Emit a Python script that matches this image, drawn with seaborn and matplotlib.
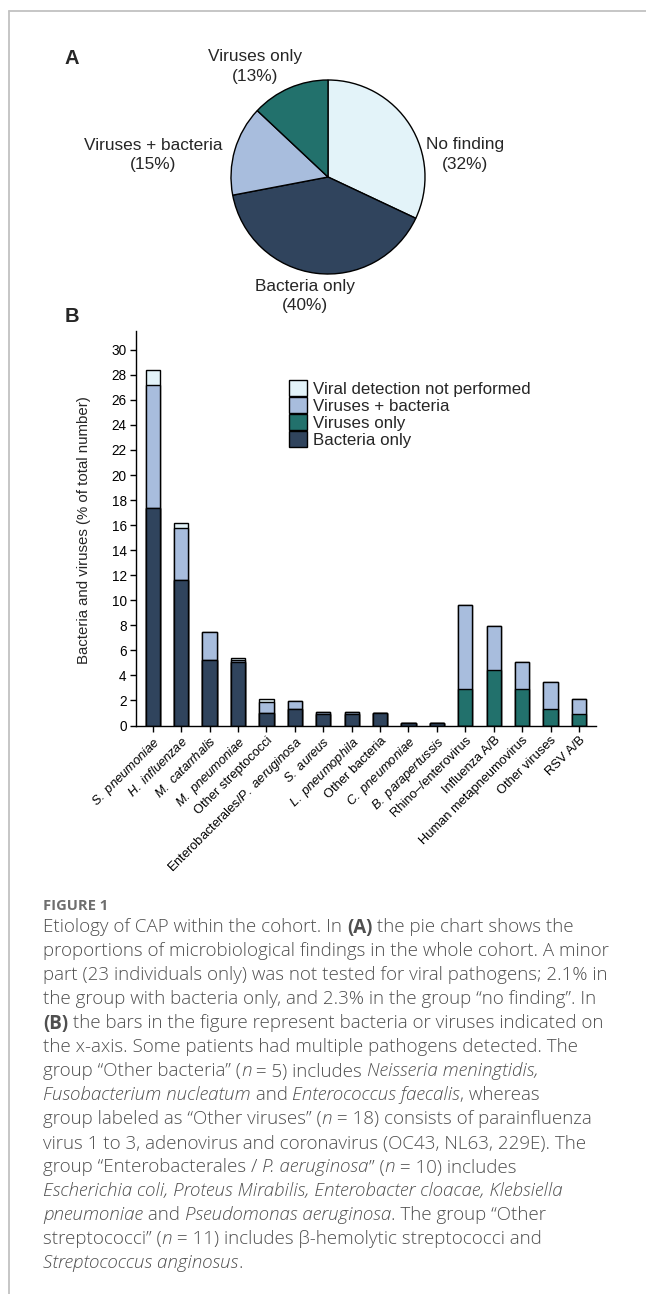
import numpy as np
import pandas as pd
import matplotlib
matplotlib.use("Agg")
import matplotlib.pyplot as plt
import seaborn as sns
from matplotlib.lines import Line2D
from matplotlib.patches import Patch

# ---------------- data ----------------
pie_labels = ["No finding", "Bacteria only", "Viruses + bacteria", "Viruses only"]
pie_values = [32, 40, 15, 13]

categories = ["S. pneumoniae", "H. influenzae", "M. catarrhalis", "M. pneumoniae",
              "Other streptococci", "Enterobacterales/P. aeruginosa", "S. aureus",
              "L. pneumophila", "Other bacteria", "C. pneumoniae", "B. parapertussis",
              "Rhino–/enterovirus", "Influenza A/B", "Human metapneumovirus",
              "Other viruses", "RSV A/B"]
tick_labels = [r"$\mathit{S.\ pneumoniae}$", r"$\mathit{H.\ influenzae}$",
               r"$\mathit{M.\ catarrhalis}$", r"$\mathit{M.\ pneumoniae}$",
               "Other streptococci", r"Enterobacterales/$\mathit{P.\ aeruginosa}$",
               r"$\mathit{S.\ aureus}$", r"$\mathit{L.\ pneumophila}$", "Other bacteria",
               r"$\mathit{C.\ pneumoniae}$", r"$\mathit{B.\ parapertussis}$",
               "Rhino–/enterovirus", "Influenza A/B", "Human metapneumovirus",
               "Other viruses", "RSV A/B"]
bacteria_only    = [17.4, 11.6, 5.2, 5.05, 1.0, 1.35, 0.95, 0.95, 1.0, 0.2, 0.2, 0, 0, 0, 0, 0]
viruses_only     = [0, 0, 0, 0, 0, 0, 0, 0, 0, 0, 0, 2.95, 4.45, 2.95, 1.3, 0.95]
viruses_bacteria = [9.8, 4.2, 2.3, 0.2, 0.9, 0.6, 0.15, 0.15, 0, 0, 0, 6.7, 3.5, 2.1, 2.15, 1.2]
not_performed    = [1.2, 0.4, 0, 0.15, 0.2, 0, 0, 0, 0, 0, 0, 0, 0, 0, 0, 0]
legend_labels = ["Viral detection not performed", "Viruses + bacteria", "Viruses only", "Bacteria only"]
y_ticks = list(range(0, 31, 2))
y_label = "Bacteria and viruses (% of total number)"

# ---------------- style ----------------
C_CYAN, C_LBLUE, C_TEAL, C_NAVY = "#E3F3F9", "#A8BDDD", "#22716C", "#30445D"
W, H = 646, 1294
sns.set_theme(style="ticks")
plt.rcParams['font.family'] = ['Liberation Sans', 'DejaVu Sans']
plt.rcParams['mathtext.fontset'] = 'custom'
plt.rcParams['mathtext.rm'] = 'Liberation Sans'
plt.rcParams['mathtext.it'] = 'Liberation Sans:italic'
plt.rcParams['mathtext.bf'] = 'Liberation Sans:bold'

fig = plt.figure(figsize=(W / 100, H / 100), dpi=100)
fig.patch.set_facecolor("white")


def fx(x):
    return x / W


def fy(y):
    return 1 - y / H


# frame lines
fig.add_artist(Line2D([fx(9), 1], [fy(11), fy(11)], color="#c2c2c2", lw=1.3, transform=fig.transFigure))
fig.add_artist(Line2D([fx(9), fx(9)], [fy(11), 0], color="#c2c2c2", lw=1.3, transform=fig.transFigure))

# ---------------- panel A: pie ----------------
R = 97
cx, cy = 328, 177
ax_pie = fig.add_axes([fx(cx - 1.25 * R), fy(cy + 1.25 * R), 2.5 * R / W, 2.5 * R / H])
ax_pie.pie(pie_values, colors=[C_CYAN, C_NAVY, C_LBLUE, C_TEAL], startangle=90,
           counterclock=False, wedgeprops=dict(edgecolor="black", linewidth=1.0))
ax_pie.set_xlim(-1.25, 1.25)
ax_pie.set_ylim(-1.25, 1.25)
ax_pie.set_aspect("equal")
ax_pie.axis("off")

pie_fs = 12.4
label_pos = {"Viruses only": (255, 57), "Viruses + bacteria": (153, 145),
             "No finding": (465, 145), "Bacteria only": (305, 286)}
for lab, val in zip(pie_labels, pie_values):
    x, y = label_pos[lab]
    fig.text(fx(x), fy(y), lab, ha="center", va="center", fontsize=pie_fs)
    fig.text(fx(x), fy(y + 19.5), f"({val}%)", ha="center", va="center", fontsize=pie_fs)

fig.text(fx(72), fy(59), "A", ha="center", va="center", fontsize=14.5, fontweight="bold")
fig.text(fx(72), fy(316), "B", ha="center", va="center", fontsize=14.5, fontweight="bold")

# ---------------- panel B: stacked bars ----------------
df = pd.DataFrame({"category": categories, "bac": bacteria_only, "vir": viruses_only,
                   "vb": viruses_bacteria, "np": not_performed})
df["c1"] = df["bac"]
df["c2"] = df["c1"] + df["vir"]
df["c3"] = df["c2"] + df["vb"]
df["c4"] = df["c3"] + df["np"]

x0, x1, y0, y1 = 135.7, 596, 725.5, 331
ax = fig.add_axes([fx(x0), fy(y0), (x1 - x0) / W, (y0 - y1) / H])
for col, colr in [("c4", C_CYAN), ("c3", C_LBLUE), ("c2", C_TEAL), ("c1", C_NAVY)]:
    sns.barplot(data=df, x="category", y=col, order=categories, color=colr, saturation=1,
                width=0.5, edgecolor="black", linewidth=1.0, ax=ax)

ax.set_xlim(-0.6, 15.6)
ax.set_ylim(0, 31.5)
ax.set_yticks(y_ticks)
ax.set_yticklabels([str(v) for v in y_ticks], fontsize=9.8)
ax.set_xticks(range(len(categories)))
ax.set_xticklabels(tick_labels, rotation=45, ha="right", rotation_mode="anchor", fontsize=9.3)
ax.set_xlabel("")
ax.set_ylabel(y_label, fontsize=10.8)
ax.yaxis.set_label_coords((91 - x0) / (x1 - x0), (y0 - 530) / (y0 - y1))
ax.tick_params(axis="both", direction="out", length=4.5, width=1.0, color="black",
               labelcolor="black", pad=2)
sns.despine(ax=ax)
for s in ["left", "bottom"]:
    ax.spines[s].set_color("black")
    ax.spines[s].set_linewidth(1.0)
ax.set_facecolor("none")

handles = [Patch(facecolor=c, edgecolor="black", linewidth=1.0) for c in [C_CYAN, C_LBLUE, C_TEAL, C_NAVY]]
fig.legend(handles, legend_labels, loc="upper left", bbox_to_anchor=(fx(289), fy(380)),
           bbox_transform=fig.transFigure, frameon=False, fontsize=12.2, borderpad=0,
           borderaxespad=0, labelspacing=0.0, handlelength=1.05, handleheight=1.12,
           handletextpad=0.35)

# ---------------- caption ----------------
renderer = fig.canvas.get_renderer()
CAP_FONT = ["Open Sans", "DejaVu Sans"]
CAP_SIZE = 13.5
CAP_COLOR = "#4f4f4f"


def run_width(s, kw):
    t = fig.text(0, 0, "|" + s + "|", **kw)
    t2 = fig.text(0, 0, "||", **kw)
    w = t.get_window_extent(renderer).width - t2.get_window_extent(renderer).width
    t.remove()
    t2.remove()
    return w


def draw_line(ycen, runs, x_start=43, size=CAP_SIZE, color=CAP_COLOR, base="light"):
    x = x_start
    for text, st in runs:
        kw = dict(fontsize=size, family=CAP_FONT, color=color,
                  weight="bold" if st == "b" else base,
                  style="italic" if st == "i" else "normal")
        fig.text(fx(x), fy(ycen + 5.5), text, ha="left", va="baseline", **kw)
        x += run_width(text, kw)


draw_line(904, [("FIGURE 1", "b")], size=10.6, color="#6e6e6e")
caption = [
    [("Etiology of CAP within the cohort. In ", "n"), ("(A)", "b"), (" the pie chart shows the", "n")],
    [("proportions of microbiological findings in the whole cohort. A minor", "n")],
    [("part (23 individuals only) was not tested for viral pathogens; 2.1% in", "n")],
    [("the group with bacteria only, and 2.3% in the group “no finding”. In", "n")],
    [("(B)", "b"), (" the bars in the figure represent bacteria or viruses indicated on", "n")],
    [("the x-axis. Some patients had multiple pathogens detected. The", "n")],
    [("group “Other bacteria” (", "n"), ("n", "i"), (" = 5) includes ", "n"), ("Neisseria meningtidis,", "i")],
    [("Fusobacterium nucleatum", "i"), (" and ", "n"), ("Enterococcus faecalis", "i"), (", whereas", "n")],
    [("group labeled as “Other viruses” (", "n"), ("n", "i"), (" = 18) consists of parainfluenza", "n")],
    [("virus 1 to 3, adenovirus and coronavirus (OC43, NL63, 229E). The", "n")],
    [("group “Enterobacterales / ", "n"), ("P. aeruginosa", "i"), ("” (", "n"), ("n", "i"), (" = 10) includes", "n")],
    [("Escherichia coli, Proteus Mirabilis, Enterobacter cloacae, Klebsiella", "i")],
    [("pneumoniae", "i"), (" and ", "n"), ("Pseudomonas aeruginosa", "i"), (". The group “Other", "n")],
    [("streptococci” (", "n"), ("n", "i"), (" = 11) includes β-hemolytic streptococci and", "n")],
    [("Streptococcus anginosus", "i"), (".", "n")],
]
for i, runs in enumerate(caption):
    draw_line(927 + 24 * i, runs)

fig.savefig("out.png", dpi=100, facecolor="white")
